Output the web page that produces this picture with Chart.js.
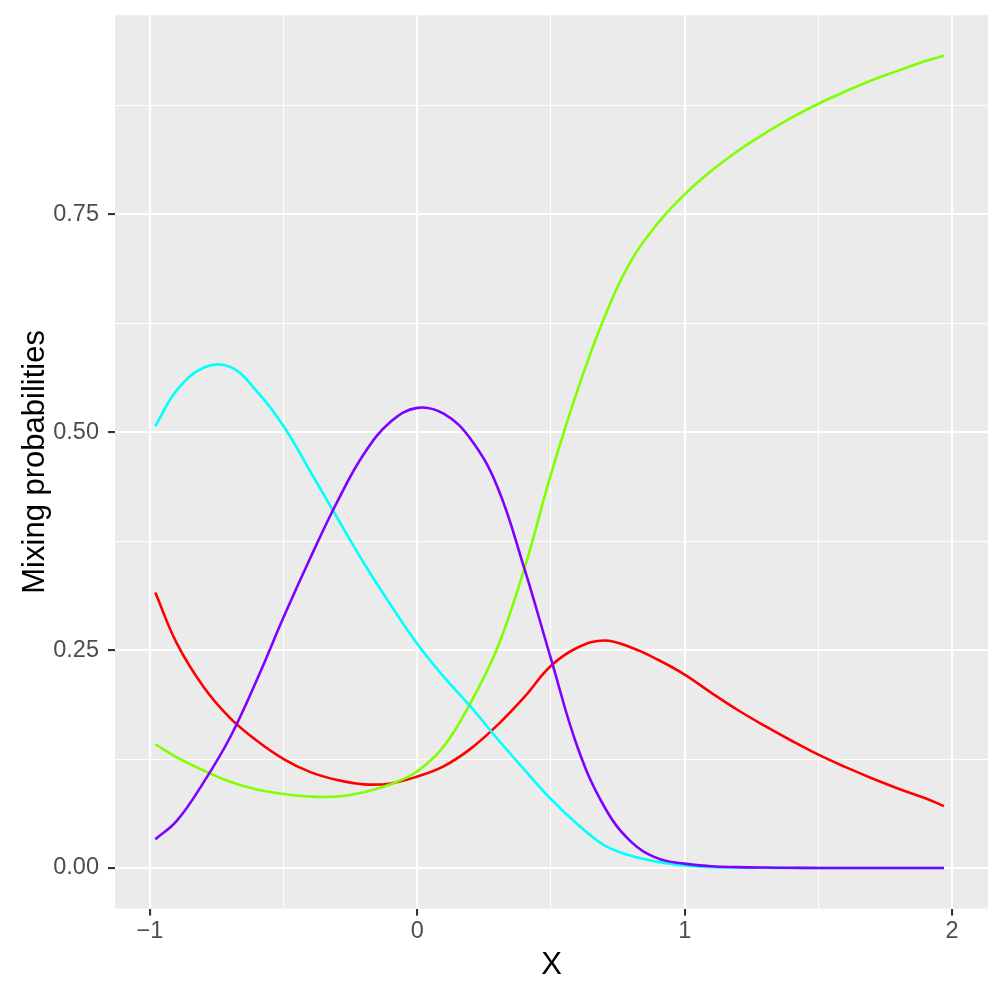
<!DOCTYPE html>
<html>
<head>
<meta charset="utf-8">
<script src="https://cdn.jsdelivr.net/npm/chart.js@4.4.1/dist/chart.umd.min.js"></script>
<style>
html,body{margin:0;padding:0;background:#ffffff;}
#wrap{width:1000px;height:1000px;}
</style>
</head>
<body>
<div id="wrap"><canvas id="c" width="1000" height="1000"></canvas></div>
<script>
// ---- data ----
const xValues = [-0.98, -0.9, -0.8, -0.7, -0.6, -0.5, -0.4, -0.3, -0.2, -0.1,
                 0, 0.1, 0.2, 0.3, 0.4, 0.5, 0.6, 0.7, 0.8, 0.9,
                 1.0, 1.1, 1.2, 1.3, 1.4, 1.5, 1.6, 1.7, 1.8, 1.9, 1.97];

const redValues = [0.316, 0.258, 0.208, 0.172, 0.146, 0.125, 0.110, 0.101, 0.096, 0.097,
                   0.105, 0.117, 0.137, 0.164, 0.196, 0.232, 0.253, 0.261, 0.253, 0.239,
                   0.222, 0.201, 0.181, 0.163, 0.146, 0.130, 0.116, 0.103, 0.091, 0.080, 0.071];

const greenValues = [0.142, 0.127, 0.112, 0.099, 0.090, 0.085, 0.082, 0.082, 0.087, 0.096,
                     0.111, 0.140, 0.190, 0.253, 0.343, 0.452, 0.549, 0.632, 0.697, 0.740,
                     0.773, 0.800, 0.823, 0.843, 0.861, 0.877, 0.891, 0.904, 0.915, 0.926, 0.932];

const cyanValues = [0.507, 0.548, 0.574, 0.575, 0.547, 0.507, 0.455, 0.402, 0.350, 0.302,
                    0.257, 0.219, 0.185, 0.148, 0.113, 0.079, 0.050, 0.026, 0.014, 0.007,
                    0.003, 0.001, 0.0005, 0.0002, 0, 0, 0, 0, 0, 0, 0];

const purpleValues = [0.033, 0.054, 0.098, 0.150, 0.216, 0.288, 0.356, 0.420, 0.475, 0.512,
                      0.528, 0.521, 0.492, 0.437, 0.344, 0.240, 0.138, 0.070, 0.030, 0.011,
                      0.005, 0.002, 0.001, 0.0005, 0.0002, 0, 0, 0, 0, 0, 0];

const seriesNames = ['1', '2', '3', '4'];
const seriesColors = ['#FF0000', '#80FF00', '#00FFFF', '#8000FF'];

const xMajorTicks = [-1, 0, 1, 2];
const xTickLabels = ['\u22121', '0', '1', '2'];
const xMinorTicks = [-0.5, 0.5, 1.5];
const yMajorTicks = [0, 0.25, 0.5, 0.75];
const yTickLabels = ['0.00', '0.25', '0.50', '0.75'];
const yMinorTicks = [0.125, 0.375, 0.625, 0.875];

const xTitle = 'X';
const yTitle = 'Mixing probabilities';

// ---- build chart ----
const allSeries = [redValues, greenValues, cyanValues, purpleValues];
const datasets = allSeries.map((vals, i) => ({
  label: seriesNames[i],
  data: xValues.map((x, j) => ({x: x, y: vals[j]})),
  borderColor: seriesColors[i],
  backgroundColor: seriesColors[i],
  borderWidth: 2.6,
  pointRadius: 0,
  pointHoverRadius: 0,
  fill: false,
  tension: 0.4,
  order: allSeries.length - i
}));

const isMajor = (v, majors) => majors.some(m => Math.abs(m - v) < 1e-9);

const panelBg = {
  id: 'panelBg',
  beforeDraw(chart) {
    const {ctx, chartArea: a} = chart;
    ctx.save();
    ctx.fillStyle = '#EBEBEB';
    ctx.fillRect(a.left, a.top, a.right - a.left, a.bottom - a.top);
    ctx.restore();
  }
};

Chart.defaults.font.family = "'Liberation Sans', Arial, Helvetica, sans-serif";

new Chart(document.getElementById('c'), {
  type: 'line',
  data: {datasets: datasets},
  plugins: [panelBg],
  options: {
    responsive: false,
    animation: false,
    devicePixelRatio: 1,
    layout: {padding: {top: 15.2, right: 12, left: 0, bottom: 0}},
    plugins: {legend: {display: false}, tooltip: {enabled: false}},
    scales: {
      x: {
        type: 'linear',
        min: -1.1308,
        max: 2.1346,
        afterBuildTicks: s => {
          s.ticks = xMajorTicks.concat(xMinorTicks).sort((a, b) => a - b).map(v => ({value: v}));
        },
        afterFit: s => { s.height = 91.4; s.paddingLeft = 0; s.paddingRight = 0; },
        ticks: {
          autoSkip: false,
          maxRotation: 0,
          color: '#4D4D4D',
          font: {size: 23.5},
          padding: 2,
          callback: v => {
            const k = xMajorTicks.findIndex(m => Math.abs(m - v) < 1e-9);
            return k >= 0 ? xTickLabels[k] : '';
          }
        },
        grid: {
          color: '#FFFFFF',
          lineWidth: c => isMajor(c.tick.value, xMajorTicks) ? 2.1 : 1.05,
          tickColor: c => isMajor(c.tick.value, xMajorTicks) ? '#333333' : 'rgba(0,0,0,0)',
          tickLength: 7,
          tickWidth: 2.1
        },
        border: {display: false},
        title: {
          display: true,
          text: xTitle,
          color: '#000000',
          font: {size: 31},
          padding: {top: 4, bottom: 16.4}
        }
      },
      y: {
        type: 'linear',
        min: -0.0466,
        max: 0.9786,
        afterBuildTicks: s => {
          s.ticks = yMajorTicks.concat(yMinorTicks).sort((a, b) => a - b).map(v => ({value: v}));
        },
        afterFit: s => { s.width = 115; s.paddingTop = 0; s.paddingBottom = 0; },
        ticks: {
          autoSkip: false,
          color: '#4D4D4D',
          font: {size: 23.5},
          padding: 9,
          callback: v => {
            const k = yMajorTicks.findIndex(m => Math.abs(m - v) < 1e-9);
            return k >= 0 ? yTickLabels[k] : '';
          }
        },
        grid: {
          color: '#FFFFFF',
          lineWidth: c => isMajor(c.tick.value, yMajorTicks) ? 2.1 : 1.05,
          tickColor: c => isMajor(c.tick.value, yMajorTicks) ? '#333333' : 'rgba(0,0,0,0)',
          tickLength: 7,
          tickWidth: 2.1
        },
        border: {display: false},
        title: {
          display: true,
          text: yTitle,
          color: '#000000',
          font: {size: 31},
          padding: {top: 16.5, bottom: 4}
        }
      }
    }
  }
});
</script>
</body>
</html>
